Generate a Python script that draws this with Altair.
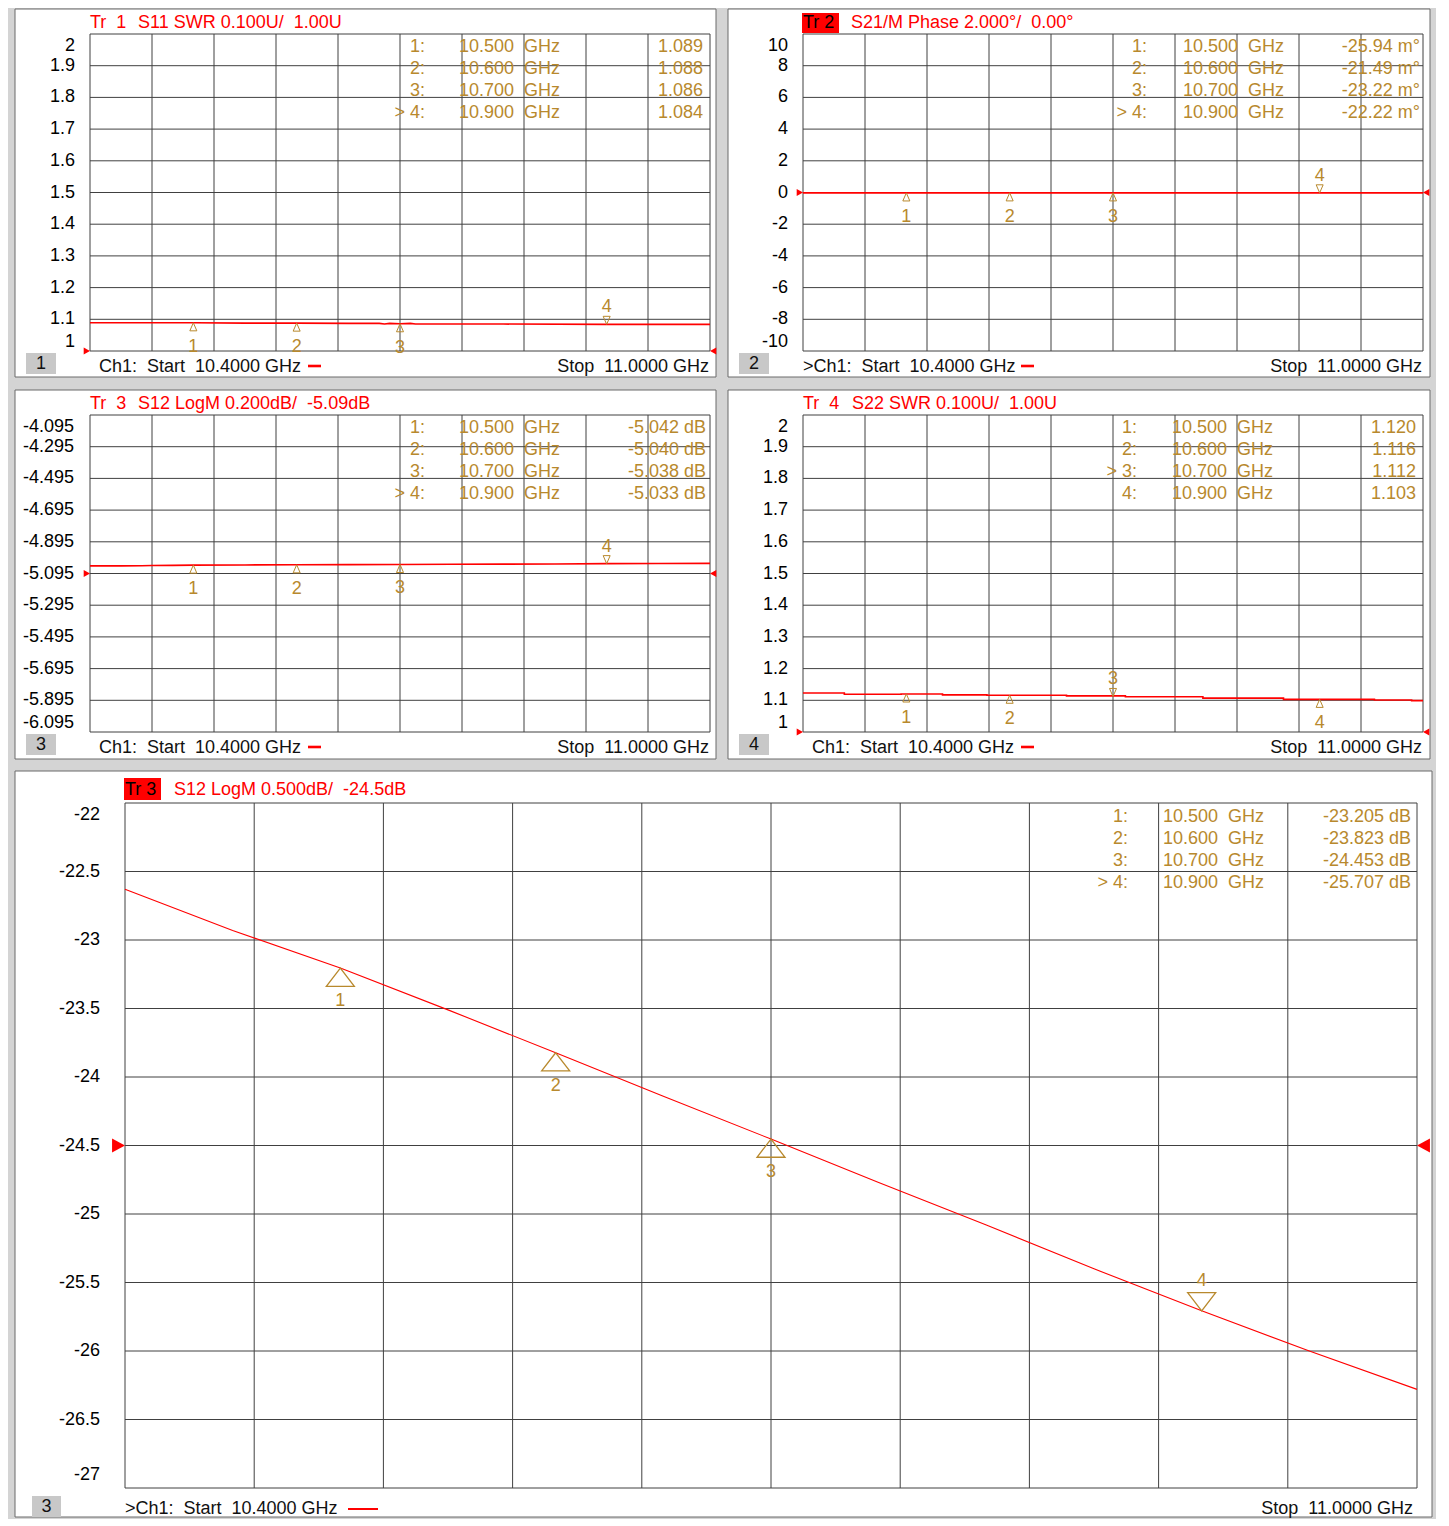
import altair as alt
import pandas as pd

FONT = "Liberation Sans"
GOLD = "#b8892d"
RED = "#ff0000"
GRID = "#404040"
BG = "#d4d4d4"
BOX = "#c8c8c8"
NB = "\u00a0"

F_START = 10.4
F_STOP = 11.0
X_GRID = [10.40, 10.46, 10.52, 10.58, 10.64, 10.70, 10.76, 10.82, 10.88, 10.94, 11.00]
MARK_F = [10.500, 10.600, 10.700, 10.900]
MARK_N = ["1", "2", "3", "4"]

# Tr 1 : S11 SWR
S11_F = [10.40, 10.45, 10.50, 10.55, 10.60, 10.65, 10.68, 10.685, 10.69, 10.70, 10.71, 10.715, 10.72, 10.80, 10.90, 11.00]
S11_V = [1.089, 1.089, 1.089, 1.088, 1.088, 1.087, 1.087, 1.085, 1.087, 1.086, 1.087, 1.085, 1.085, 1.085, 1.084, 1.084]
S11_MK = [1.089, 1.088, 1.086, 1.084]
SWR_TICKS = [1.0, 1.1, 1.2, 1.3, 1.4, 1.5, 1.6, 1.7, 1.8, 1.9, 2.0]

# Tr 2 : S21 phase (degrees)
PH_F = [10.40, 10.50, 10.60, 10.70, 10.80, 10.90, 11.00]
PH_V = [-0.024, -0.026, -0.021, -0.023, -0.022, -0.022, -0.023]
PH_MK = [-0.02594, -0.02149, -0.02322, -0.02222]
PH_TICKS = [-10, -8, -6, -4, -2, 0, 2, 4, 6, 8, 10]

# Tr 3 : S12 LogM (window 3)
S12A_F = [10.40, 10.42, 10.43, 10.45, 10.46, 10.48, 10.50, 10.55, 10.60, 10.65, 10.70, 10.75, 10.80, 10.85, 10.90, 10.95, 11.00]
S12A_V = [-5.047, -5.046, -5.047, -5.046, -5.045, -5.044, -5.042, -5.041, -5.040, -5.039, -5.038, -5.037, -5.036, -5.035, -5.033, -5.032, -5.031]
S12A_MK = [-5.042, -5.040, -5.038, -5.033]
S12A_TICKS = [-6.095, -5.895, -5.695, -5.495, -5.295, -5.095, -4.895, -4.695, -4.495, -4.295, -4.095]

# Tr 4 : S22 SWR
S22_F = [10.400, 10.440, 10.495, 10.535, 10.578, 10.655, 10.712, 10.787, 10.865, 10.953, 10.989, 11.000]
S22_V = [1.123, 1.119, 1.120, 1.117, 1.116, 1.114, 1.111, 1.107, 1.103, 1.101, 1.099, 1.099]
S22_MK = [1.120, 1.116, 1.112, 1.103]

# Tr 3 : S12 LogM (window 3, enlarged)
S12B_F = [10.40, 10.45, 10.50, 10.55, 10.60, 10.65, 10.70, 10.75, 10.80, 10.85, 10.90, 10.95, 11.00]
S12B_V = [-22.63, -22.93, -23.205, -23.51, -23.823, -24.14, -24.453, -24.77, -25.08, -25.40, -25.707, -26.00, -26.28]
S12B_MK = [-23.205, -23.823, -24.453, -25.707]
S12B_TICKS = [-27, -26.5, -26, -25.5, -25, -24.5, -24, -23.5, -23, -22.5, -22]


def sp(s):
    return s.replace("  ", " " + NB)


SMALL = dict(lw=1.6, tri=49, up="M0,0L-1,2.3L1,2.3Z", dn="M0,0L-1,-2.3L1,-2.3Z",
             nb=24, na=-17, rsize=49, rl="M-1.8,-1L0,0L-1.8,1Z", rr="M1.8,-1L0,0L1.8,1Z",
             top_dy=11.5, bot_dy=-9.5, title_dy=-11.5, trbox=(-1, 36, -21, -1),
             tab_dy=3.5, foot_dy=16, dash=(218, 231, 15, 2.6),
             numbox=(-64, -34, 2, 23), numtxt=(-49, 12.5), tsw=1.0)
BIG = dict(lw=1.1, tri=784, up="M0,0L-1,1.3L1,1.3Z", dn="M0,0L-1,-1.3L1,-1.3Z",
           nb=33, na=-30, rsize=196, rl="M-1.85,-1L0,0L-1.85,1Z", rr="M1.85,-1L0,0L1.85,1Z",
           top_dy=12, bot_dy=-13, title_dy=-13, trbox=(-1, 36, -25, -3),
           tab_dy=4.5, foot_dy=21, dash=(223, 253, 21, 2),
           numbox=(-93, -64, 8, 29), numtxt=(-78.5, 18.5), tsw=1.3)


def panel(c):
    s = c["style"]
    lo, hi = c["ticks"][0], c["ticks"][-1]
    lead = c.get("lead", 0)  # blank pixels left of the start frequency inside the plot group
    span = F_STOP - F_START
    x_lo = F_START - lead * span / c["w"]
    xs = alt.Scale(domain=[x_lo, F_STOP], nice=False, zero=False)
    ys = alt.Scale(domain=[lo, hi], nice=False, zero=False)

    def XD(v):
        return alt.X(datum=v, type="quantitative", scale=xs, axis=None)

    def YD(v):
        return alt.Y(datum=v, type="quantitative", scale=ys, axis=None)

    def XF(f):
        return alt.X(f"{f}:Q", scale=xs, axis=None)

    def YF(f):
        return alt.Y(f"{f}:Q", scale=ys, axis=None)

    one = pd.DataFrame({"k": [0]})
    L = []
    fl, fr, ft, fb = c["frame"]
    L.append(alt.Chart(one).mark_rect(fill="white", stroke="#6a6a6a", strokeWidth=1,
                                      xOffset=fl, x2Offset=fr, yOffset=ft, y2Offset=fb)
             .encode(x=XD(F_START), x2=alt.X2(datum=F_STOP), y=YD(hi), y2=alt.Y2(datum=lo)))
    # grid
    L.append(alt.Chart(pd.DataFrame({"v": c["ticks"]})).mark_rule(color=GRID, strokeWidth=1)
             .encode(y=YF("v"), x=XD(F_START), x2=alt.X2(datum=F_STOP)))
    L.append(alt.Chart(pd.DataFrame({"f": X_GRID})).mark_rule(color=GRID, strokeWidth=1)
             .encode(x=XF("f")))
    # y labels
    ldf = pd.DataFrame({"v": c["ticks"], "t": [c["fmt"](v) for v in c["ticks"]]})
    tk = dict(align="right", fontSize=18, font=FONT, color="black", dx=c["lab_dx"])
    L.append(alt.Chart(ldf.iloc[1:-1]).mark_text(baseline="middle", **tk)
             .encode(x=XD(F_START), y=YF("v"), text="t:N"))
    L.append(alt.Chart(ldf.iloc[-1:]).mark_text(baseline="middle", dy=s["top_dy"], **tk)
             .encode(x=XD(F_START), y=YF("v"), text="t:N"))
    L.append(alt.Chart(ldf.iloc[:1]).mark_text(baseline="middle", dy=s["bot_dy"], **tk)
             .encode(x=XD(F_START), y=YF("v"), text="t:N"))
    # trace
    L.append(alt.Chart(pd.DataFrame({"f": c["f"], "v": c["v"]}))
             .mark_line(color=RED, strokeWidth=s["lw"], interpolate=c.get("interp", "linear"))
             .encode(x=XF("f"), y=YF("v")))
    # reference level arrows
    L.append(alt.Chart(one).mark_point(shape=s["rl"], size=s["rsize"], filled=True, color=RED, opacity=1)
             .encode(x=XD(F_START), y=YD(c["ref"])))
    L.append(alt.Chart(one).mark_point(shape=s["rr"], size=s["rsize"], filled=True, color=RED, opacity=1)
             .encode(x=XD(F_STOP), y=YD(c["ref"])))
    # markers
    act = c["active"]
    mdf = pd.DataFrame({"f": MARK_F, "v": c["mk"], "n": MARK_N,
                        "dir": ["down" if i == act else "up" for i in range(4)]})
    pt = dict(filled=False, color=GOLD, strokeWidth=s["tsw"], size=s["tri"], opacity=1)
    L.append(alt.Chart(mdf).transform_filter("datum.dir == 'up'").mark_point(shape=s["up"], **pt)
             .encode(x=XF("f"), y=YF("v")))
    L.append(alt.Chart(mdf).transform_filter("datum.dir == 'down'").mark_point(shape=s["dn"], **pt)
             .encode(x=XF("f"), y=YF("v")))
    mt = dict(color=GOLD, fontSize=18, font=FONT, baseline="middle", align="center")
    L.append(alt.Chart(mdf).transform_filter("datum.dir == 'up'").mark_text(dy=s["nb"], **mt)
             .encode(x=XF("f"), y=YF("v"), text="n:N"))
    L.append(alt.Chart(mdf).transform_filter("datum.dir == 'down'").mark_text(dy=s["na"], **mt)
             .encode(x=XF("f"), y=YF("v"), text="n:N"))
    # marker table
    labels = [("> " if i == act else "") + MARK_N[i] + ":" for i in range(4)]
    freqs = [f"{f:.3f}" + " " + NB + "GHz" for f in MARK_F]
    vals = [c["mkfmt"](v) for v in c["mk"]]
    cl, cf, cv = c["cols"]
    tt = dict(color=GOLD, fontSize=18, font=FONT, baseline="top", lineHeight=22.3, dy=s["tab_dy"])
    L.append(alt.Chart(one).mark_text(text=labels, align="right", dx=cl, **tt)
             .encode(x=XD(F_STOP), y=YD(hi)))
    L.append(alt.Chart(one).mark_text(text=freqs, align="left", dx=cf, **tt)
             .encode(x=XD(F_STOP), y=YD(hi)))
    L.append(alt.Chart(one).mark_text(text=vals, align="right", dx=cv, **tt)
             .encode(x=XD(F_STOP), y=YD(hi)))
    # title
    if c["box"]:
        bl, br, bt, bb = s["trbox"]
        L.append(alt.Chart(one).mark_rect(fill=RED, xOffset=bl, x2Offset=br, yOffset=bt, y2Offset=bb)
                 .encode(x=XD(F_START), x2=alt.X2(datum=F_START), y=YD(hi), y2=alt.Y2(datum=hi)))
    L.append(alt.Chart(one).mark_text(text=c["tr"], align="left", baseline="middle", dy=s["title_dy"],
                                      color="black" if c["box"] else RED, fontSize=18, font=FONT)
             .encode(x=XD(F_START), y=YD(hi)))
    L.append(alt.Chart(one).mark_text(text=sp(c["title"]), align="left", baseline="middle", dx=c["title_dx"],
                                      dy=s["title_dy"], color=RED, fontSize=18, font=FONT)
             .encode(x=XD(F_START), y=YD(hi)))
    # footer
    ft_ = dict(baseline="middle", dy=s["foot_dy"], color="#111111", fontSize=18, font=FONT)
    L.append(alt.Chart(one).mark_text(text=sp(c["ch"]), align="left", dx=c["ch_dx"], **ft_)
             .encode(x=XD(F_START), y=YD(lo)))
    L.append(alt.Chart(one).mark_text(text=sp("Stop  11.0000 GHz"), align="right", dx=c["stop_dx"], **ft_)
             .encode(x=XD(F_STOP), y=YD(lo)))
    d0, d1, dy, dw = s["dash"]
    L.append(alt.Chart(one).mark_rule(color=RED, strokeWidth=dw, xOffset=d0, x2Offset=d1, yOffset=dy)
             .encode(x=XD(F_START), x2=alt.X2(datum=F_START), y=YD(lo)))
    # window number box
    n0, n1, n2, n3 = s["numbox"]
    L.append(alt.Chart(one).mark_rect(fill=BOX, xOffset=n0, x2Offset=n1, yOffset=n2, y2Offset=n3)
             .encode(x=XD(F_START), x2=alt.X2(datum=F_START), y=YD(lo), y2=alt.Y2(datum=lo)))
    L.append(alt.Chart(one).mark_text(text=c["num"], align="center", baseline="middle",
                                      dx=s["numtxt"][0], dy=s["numtxt"][1], color="#111111",
                                      fontSize=18, font=FONT)
             .encode(x=XD(F_START), y=YD(lo)))
    return alt.layer(*L).properties(width=c["w"] + lead, height=c["h"])


fmt_g = lambda v: f"{v:g}"
fmt_3 = lambda v: f"{v:.3f}"

p1 = panel(dict(style=SMALL, w=620, h=317, ticks=SWR_TICKS, fmt=fmt_g, f=S11_F, v=S11_V,
                mk=S11_MK, active=3, mkfmt=lambda v: f"{v:.3f}", ref=1.0, lab_dx=-15,
                frame=(-75, 6, -25, 26), cols=(-285, -251, -7), box=False, tr="Tr" + NB + " 1",
                title="S11 SWR 0.100U/  1.00U", title_dx=48, ch="Ch1:  Start  10.4000 GHz", ch_dx=9,
                stop_dx=-1, num="1"))
p2 = panel(dict(style=SMALL, w=620, h=317, ticks=PH_TICKS, fmt=fmt_g, f=PH_F, v=PH_V,
                mk=PH_MK, active=3, mkfmt=lambda v: f"{v * 1000:.2f} m°", ref=0, lab_dx=-15,
                frame=(-75, 7, -25, 26), cols=(-276, -240, -3), box=True, tr="Tr 2",
                title="S21/M Phase 2.000°/  0.00°", title_dx=48, ch=">Ch1:  Start  10.4000 GHz", ch_dx=0,
                stop_dx=-1, num="2"))
p3 = panel(dict(style=SMALL, w=620, h=317, ticks=S12A_TICKS, fmt=fmt_3, f=S12A_F, v=S12A_V,
                mk=S12A_MK, active=3, mkfmt=lambda v: f"{v:.3f} dB", ref=-5.095, lab_dx=-16,
                frame=(-75, 6, -25, 27), cols=(-285, -251, -4), box=False, tr="Tr" + NB + " 3",
                title="S12 LogM 0.200dB/  -5.09dB", title_dx=48, ch="Ch1:  Start  10.4000 GHz", ch_dx=9,
                stop_dx=-1, num="3"))
p4 = panel(dict(style=SMALL, w=620, h=317, ticks=SWR_TICKS, fmt=fmt_g, f=S22_F, v=S22_V,
                interp="step-after", mk=S22_MK, active=2, mkfmt=lambda v: f"{v:.3f}", ref=1.0, lab_dx=-15,
                frame=(-75, 7, -25, 27), cols=(-286, -251, -7), box=False, tr="Tr" + NB + " 4",
                title="S22 SWR 0.100U/  1.00U", title_dx=49, ch="Ch1:  Start  10.4000 GHz", ch_dx=9,
                stop_dx=-1, num="4"))
p5 = panel(dict(style=BIG, w=1292, lead=35, h=685, ticks=S12B_TICKS, fmt=fmt_g, f=S12B_F, v=S12B_V,
                mk=S12B_MK, active=3, mkfmt=lambda v: f"{v:.3f} dB", ref=-24.5, lab_dx=-25,
                frame=(-110, 15, -32, 29), cols=(-289, -254, -6), box=True, tr="Tr 3",
                title="S12 LogM 0.500dB/  -24.5dB", title_dx=49, ch=">Ch1:  Start  10.4000 GHz", ch_dx=0,
                stop_dx=-4, num="3"))

row1 = alt.hconcat(p1, p2, spacing=10)
row2 = alt.hconcat(p3, p4, spacing=10)
top = alt.vconcat(row1, row2, spacing=11)
chart = alt.vconcat(top, p5, spacing=10).properties(
    background=BG, padding={"left": 5, "top": 0, "right": 3, "bottom": 0}
).configure_view(stroke="transparent")

chart.save("out.html", embed_options={"renderer": "svg", "actions": False})
